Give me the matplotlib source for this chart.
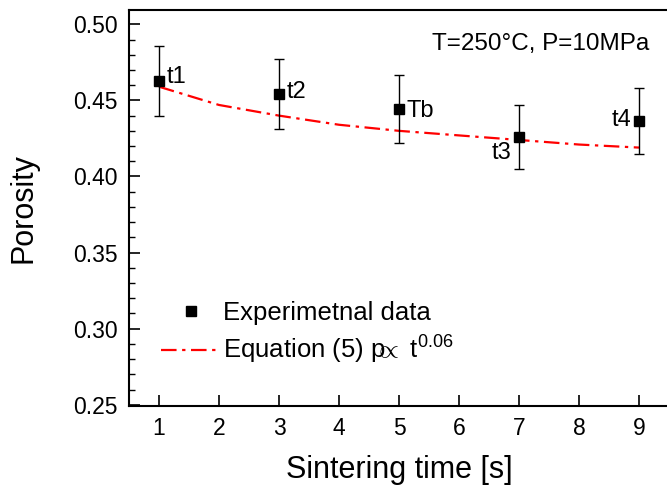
import matplotlib
matplotlib.use('Agg')
import matplotlib.pyplot as plt
from matplotlib.ticker import MultipleLocator
from matplotlib.lines import Line2D

# data
times = [1, 3, 5, 7, 9]
porosity = [0.4627, 0.4540, 0.4443, 0.4262, 0.4366]
errors = [0.0228, 0.0230, 0.0222, 0.0210, 0.0218]
point_labels = ['t1', 't2', 'Tb', 't3', 't4']

fit_t = [1, 2, 3, 4, 5, 6, 7, 8, 9]
fit_p = [0.459, 0.447, 0.440, 0.434, 0.430, 0.427, 0.424, 0.421, 0.419]

plt.rcParams['font.family'] = ['Liberation Sans', 'DejaVu Sans']
plt.rcParams['mathtext.fontset'] = 'custom'
plt.rcParams['mathtext.rm'] = 'Liberation Sans'
plt.rcParams['mathtext.it'] = 'Liberation Sans:italic'

fig = plt.figure(figsize=(6.67, 4.9), dpi=100)
ax = fig.add_axes([129 / 667, 84 / 490, 540 / 667, 396 / 490])

ax.errorbar(times, porosity, yerr=errors, fmt='s', color='black', ms=6.5,
            elinewidth=1.0, capsize=3.5, capthick=1.0, zorder=3)
fit_line, = ax.plot(fit_t, fit_p, color='red', linestyle=(0, (7, 2.5, 1.5, 2.5)),
                    linewidth=1.6, zorder=2)

# point labels
offsets = {'t1': (0.12, 0.003), 't2': (0.12, 0.0015), 'Tb': (0.12, -0.0015),
           't3': (-0.45, -0.011), 't4': (-0.45, 0.0005)}
for t, p, lab in zip(times, porosity, point_labels):
    dx, dy = offsets[lab]
    ax.text(t + dx, p + dy, lab, fontsize=17, va='center', ha='left')

ax.text(0.562, 0.915, 'T=250°C, P=10MPa', transform=ax.transAxes, fontsize=17.5,
        ha='left', va='center')

ax.set_xlim(0.5, 9.5)
ax.set_ylim(0.2492, 0.5094)
ax.set_xticks(range(1, 10))
ax.yaxis.set_major_locator(MultipleLocator(0.05))
ax.yaxis.set_minor_locator(MultipleLocator(0.01))
ax.yaxis.set_major_formatter(matplotlib.ticker.FormatStrFormatter('%.2f'))

ax.tick_params(axis='both', which='major', direction='in', length=8, width=1.2,
               labelsize=16.5, pad=8)
ax.tick_params(axis='y', which='minor', direction='in', length=4.5, width=1.0)
for s in ax.spines.values():
    s.set_linewidth(1.5)

ax.set_xlabel('Sintering time [s]', fontsize=22, va='center')
ax.set_ylabel('Porosity', fontsize=22, va='center')
ax.xaxis.set_label_coords(0.5, -0.162)
ax.yaxis.set_label_coords(-0.196, 0.5)

data_handle = Line2D([], [], marker='s', color='black', linestyle='none', ms=6.5)
leg = ax.legend([data_handle, fit_line],
                ['Experimetnal data', r'Equation (5) p$\!\!\!\propto$ t$^{0.06}$'],
                loc='lower left', bbox_to_anchor=(0.041, 0.075), frameon=False,
                fontsize=18.5, handlelength=2.3, handletextpad=0.08, labelspacing=0.35,
                borderaxespad=0)

plt.savefig('out.png', dpi=100)
